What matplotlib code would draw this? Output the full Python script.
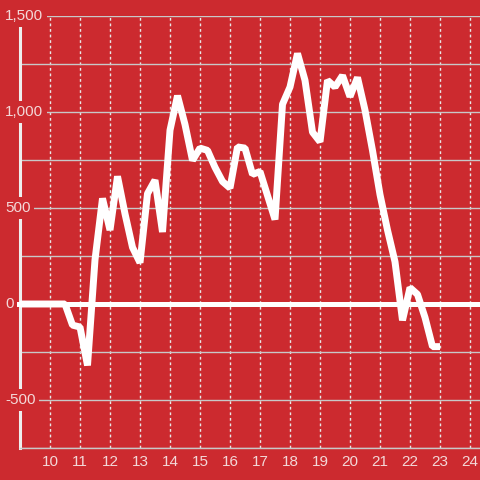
import matplotlib.pyplot as plt
from matplotlib.transforms import blended_transform_factory

# dados (passo de 0,25)
hora = [9.0, 9.25, 9.5, 9.75, 10.0, 10.25, 10.5, 10.75, 11.0, 11.25, 11.5, 11.75,
        12.0, 12.25, 12.5, 12.75, 13.0, 13.25, 13.5, 13.75, 14.0, 14.25, 14.5, 14.75,
        15.0, 15.25, 15.5, 15.75, 16.0, 16.25, 16.5, 16.75, 17.0, 17.25, 17.5, 17.75,
        18.0, 18.25, 18.5, 18.75, 19.0, 19.25, 19.5, 19.75, 20.0, 20.25, 20.5, 20.75,
        21.0, 21.25, 21.5, 21.75, 22.0, 22.25, 22.5, 22.75, 23.0]
valores = [0, 0, 0, 0, 0, 0, 0, -110, -120, -320, 230, 550,
           385, 665, 470, 295, 215, 575, 645, 375, 905, 1085, 935, 748,
           812, 800, 712, 638, 604, 818, 812, 675, 690, 565, 440, 1040,
           1130, 1305, 1165, 895, 845, 1165, 1130, 1190, 1080, 1180, 1010, 800,
           570, 385, 220, -85, 85, 50, -70, -222, -222]

xticks = list(range(10, 25))
ygrid = list(range(-750, 1501, 250))
ylabels = [-500, 0, 500, 1000, 1500]

vermelho = '#cc2a2f'
texto = '#f3d8d8'

plt.rcParams['font.family'] = ['Liberation Sans', 'DejaVu Sans']

fig = plt.figure(figsize=(4.8, 4.8), dpi=100, facecolor=vermelho)
ax = fig.add_axes([20 / 480, 32 / 480, 460 / 480, 432 / 480], facecolor=vermelho)

ax.set_xlim(9, 24 + 1 / 3)
ax.set_ylim(-750, 1500)

ax.set_xticks(xticks)
ax.set_xticklabels([str(t) for t in xticks])
ax.set_yticks(ygrid)
ax.set_yticklabels([])
ax.tick_params(axis='both', length=0)
ax.tick_params(axis='x', colors=texto, labelsize=11, pad=5)

ax.yaxis.grid(True, color='#c8c8c8', linewidth=1)
ax.xaxis.grid(True, color='#e8e8e8', linewidth=1, linestyle=(0, (2, 2)))
ax.set_axisbelow(True)

for lado in ['top', 'right']:
    ax.spines[lado].set_visible(False)
ax.spines['bottom'].set_color('#c8c8c8')
ax.spines['bottom'].set_linewidth(1)
ax.spines['left'].set_color('#eeeeee')
ax.spines['left'].set_linewidth(2.2)
ax.spines['left'].set_zorder(2.5)

# linha do zero
ax.axhline(0, xmin=-0.007, color='white', linewidth=3.6, clip_on=False, zorder=3)

# série
ax.plot(hora, valores, color='white', linewidth=5, solid_joinstyle='bevel',
        solid_capstyle='butt', zorder=4)

# rótulos do eixo y com fundo
trans = blended_transform_factory(fig.transFigure, ax.transData)
for v in ylabels:
    ax.text(5 / 480, v, f'{v:,}'.replace('-', '-'), transform=trans, ha='left', va='center',
            fontsize=11, color=texto, clip_on=False, zorder=5,
            bbox=dict(facecolor=vermelho, edgecolor='none', pad=2.5))

fig.savefig('out.png', dpi=100, facecolor=vermelho)
